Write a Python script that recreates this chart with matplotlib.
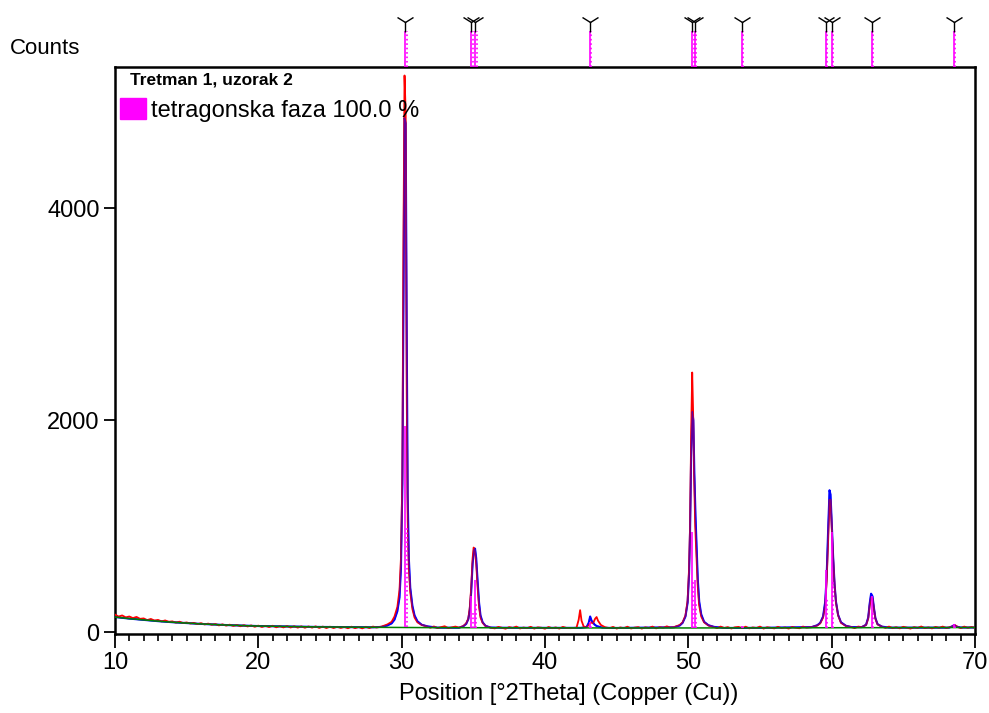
import numpy as np
import matplotlib
matplotlib.use("Agg")
import matplotlib.pyplot as plt
from matplotlib.patches import Patch

plt.rcParams['font.family'] = ['Liberation Sans', 'DejaVu Sans']

observed = [
    (10.0, 168), (10.25, 150), (10.5, 160), (10.75, 142), (11.0, 150), (11.25, 135), (11.5, 146),
    (11.75, 128), (12.0, 132), (12.25, 116), (12.5, 127), (12.75, 112), (13.0, 118), (13.25, 104),
    (13.5, 113), (13.75, 100), (14.0, 104), (14.25, 92), (14.5, 101), (14.75, 88), (15.0, 94),
    (15.25, 84), (15.5, 90), (15.75, 78), (16.0, 87), (16.25, 75), (16.5, 83), (16.75, 72),
    (17.0, 79), (17.25, 66), (17.5, 76), (17.75, 64), (18.0, 73), (18.25, 61), (18.5, 70),
    (18.75, 58), (19.0, 68), (19.25, 56), (19.5, 66), (19.75, 53), (20.0, 64), (20.25, 51),
    (20.5, 62), (20.75, 50), (21.0, 63), (21.25, 48), (21.5, 59), (21.75, 47), (22.0, 60),
    (22.25, 46), (22.5, 58), (22.75, 45), (23.0, 57), (23.25, 44), (23.5, 56), (23.75, 45),
    (24.0, 57), (24.25, 42), (24.5, 55), (24.75, 41), (25.0, 54), (25.25, 41), (25.5, 53),
    (25.75, 42), (26.0, 52), (26.25, 39), (26.5, 54), (26.75, 40), (27.0, 51), (27.25, 38),
    (27.5, 53), (27.75, 41), (28.0, 55), (28.25, 46),
    (28.6, 55), (29.0, 75), (29.3, 100), (29.5, 150), (29.7, 240), (29.85, 400), (29.95, 700),
    (30.05, 1500), (30.12, 3600), (30.2, 5250), (30.28, 4900), (30.35, 2300), (30.42, 1050),
    (30.5, 600), (30.6, 380), (30.75, 220), (30.9, 140), (31.1, 95), (31.4, 70), (31.8, 55),
    (32.0, 44), (32.25, 56), (32.5, 41), (32.75, 50), (33.0, 58), (33.25, 40), (33.5, 47),
    (33.75, 55),
    (34.0, 45), (34.3, 60), (34.5, 85), (34.65, 130), (34.75, 230), (34.85, 420), (34.95, 700),
    (35.02, 800), (35.1, 780), (35.2, 650), (35.3, 420), (35.4, 240), (35.5, 140), (35.65, 90),
    (35.85, 60), (36.2, 45),
    (36.5, 38), (36.75, 52), (37.0, 44), (37.25, 35), (37.5, 50), (37.75, 42), (38.0, 55),
    (38.25, 37), (38.5, 46), (38.75, 40), (39.0, 53), (39.25, 36), (39.5, 48), (39.75, 44),
    (40.0, 35), (40.25, 51), (40.5, 40), (40.75, 47), (41.0, 36), (41.25, 52), (41.5, 42),
    (41.8, 40), (42.2, 45), (42.35, 120), (42.45, 210), (42.55, 110), (42.7, 55), (42.9, 50),
    (43.05, 70), (43.2, 95), (43.35, 85), (43.5, 130), (43.6, 145), (43.7, 110), (43.9, 70),
    (44.2, 48), (44.5, 40),
    (44.75, 52), (45.0, 36), (45.25, 47), (45.5, 40), (45.75, 54), (46.0, 37), (46.25, 45),
    (46.5, 50), (46.75, 36), (47.0, 48), (47.25, 42), (47.5, 55), (47.75, 38), (48.0, 50),
    (48.25, 44), (48.5, 57), (48.75, 46),
    (49.0, 50), (49.4, 70), (49.6, 95), (49.8, 160), (49.95, 300), (50.05, 600), (50.12, 1000),
    (50.2, 1900), (50.27, 2450), (50.33, 2100), (50.4, 1500), (50.48, 1000), (50.57, 700),
    (50.65, 450), (50.75, 260), (50.9, 150), (51.1, 95), (51.4, 65), (51.8, 50),
    (52.0, 40), (52.25, 55), (52.5, 42), (52.75, 50), (53.0, 37), (53.25, 48), (53.5, 52),
    (53.75, 40), (54.0, 54), (54.25, 38), (54.5, 47), (54.75, 42), (55.0, 55), (55.25, 36),
    (55.5, 49), (55.75, 43), (56.0, 38), (56.25, 53), (56.5, 41), (56.75, 47), (57.0, 36),
    (57.25, 52), (57.5, 44), (57.75, 39), (58.0, 55), (58.25, 45),
    (58.6, 50), (59.0, 65), (59.2, 85), (59.4, 140), (59.55, 260), (59.65, 480), (59.75, 850),
    (59.85, 1250), (59.92, 1250), (60.0, 1000), (60.1, 700), (60.2, 450), (60.3, 280),
    (60.45, 160), (60.65, 90), (61.0, 60), (61.4, 50), (61.6, 40), (61.85, 55),
    (62.1, 50), (62.4, 70), (62.55, 130), (62.65, 250), (62.75, 330), (62.85, 320), (62.95, 220),
    (63.05, 130), (63.2, 75), (63.5, 55),
    (63.75, 42), (64.0, 55), (64.25, 40), (64.5, 49), (64.75, 38), (65.0, 53), (65.25, 44),
    (65.5, 36), (65.75, 50), (66.0, 42), (66.25, 56), (66.5, 40), (66.75, 47), (67.0, 38),
    (67.25, 52), (67.5, 43), (67.75, 55), (68.0, 41), (68.25, 50), (68.4, 55), (68.6, 68),
    (68.8, 52), (69.0, 40), (69.25, 55), (69.5, 43), (69.75, 51), (70.0, 44),
]

# calculated pattern (blue)
calculated = [
    (10, 145), (11, 130), (12, 118), (13, 106), (14, 96), (16, 80), (18, 68), (20, 60), (24, 52),
    (28, 48), (28.6, 52), (29.0, 65), (29.3, 85), (29.5, 120), (29.7, 200), (29.85, 330),
    (29.95, 600), (30.05, 1400), (30.12, 3000), (30.2, 4850), (30.28, 4800), (30.35, 2900),
    (30.42, 1300), (30.5, 700), (30.6, 420), (30.75, 250), (30.9, 160), (31.1, 105), (31.4, 72),
    (31.8, 57), (32.5, 45), (34.0, 44), (34.3, 58), (34.5, 80), (34.65, 125), (34.75, 210),
    (34.85, 380), (34.95, 650), (35.05, 780), (35.12, 790), (35.2, 700), (35.3, 480), (35.4, 280),
    (35.5, 160), (35.65, 95), (35.85, 62), (36.2, 46), (37, 44), (40, 43), (41.8, 43),
    (42.5, 43), (42.9, 50), (43.05, 90), (43.15, 150), (43.25, 110), (43.45, 75), (43.6, 60),
    (44.0, 45), (44.6, 42), (45, 42), (49.0, 48), (49.4, 65), (49.6, 90), (49.8, 150),
    (49.95, 280), (50.05, 550), (50.12, 950), (50.2, 1700), (50.28, 2080), (50.35, 2000),
    (50.42, 1500), (50.5, 1100), (50.58, 800), (50.66, 500), (50.76, 290), (50.9, 170),
    (51.1, 100), (51.4, 68), (51.8, 52), (52.5, 42), (55, 43), (58.6, 50), (59.0, 68),
    (59.2, 90), (59.4, 150), (59.55, 290), (59.65, 530), (59.75, 950), (59.85, 1340),
    (59.92, 1300), (60.0, 1050), (60.1, 720), (60.2, 460), (60.3, 290), (60.45, 165),
    (60.65, 95), (61.0, 62), (61.4, 50), (62.1, 50), (62.4, 72), (62.55, 140), (62.65, 270),
    (62.75, 365), (62.85, 340), (62.95, 230), (63.05, 135), (63.2, 78), (63.5, 55), (64, 45),
    (65, 45), (68.2, 45), (68.45, 60), (68.55, 70), (68.7, 55), (69.0, 46), (70.0, 46),
]

# background (green)
bg_pos = [10, 11, 12, 13, 14, 16, 18, 20, 24, 28, 32, 36, 40, 45, 50, 55, 60, 65, 70]
bg_counts = [145, 130, 118, 106, 96, 80, 68, 60, 52, 48, 45, 44, 43, 42, 42, 43, 44, 45, 46]

# reference lines of the tetragonal phase
ref_pos = [30.26, 34.87, 35.14, 43.14, 50.28, 50.45, 53.71, 59.6, 60.0, 62.78, 68.5]
ref_counts = [1900, 300, 450, 60, 900, 450, 20, 540, 900, 300, 30]

obs_x, obs_y = zip(*observed)
calc_x, calc_y = zip(*calculated)

fig = plt.figure(figsize=(9.89, 7.13), dpi=100)
ax = fig.add_axes([115 / 989, 1 - 634 / 713, 860 / 989, 567 / 713])
top = fig.add_axes([115 / 989, 1 - 67 / 713, 860 / 989, 50 / 713], sharex=ax)

ax.plot(calc_x, calc_y, color='blue', lw=1.5, zorder=2)
ax.plot(obs_x, obs_y, color='red', lw=1.3, zorder=3)
ax.plot(calc_x, calc_y, color='blue', lw=1.0, alpha=0.6, zorder=3.5)
ax.plot(bg_pos, bg_counts, color='green', lw=1.1, zorder=4)
base = np.interp(ref_pos, bg_pos, bg_counts)
ax.vlines(ref_pos, base, base + np.array(ref_counts), color='magenta', lw=1.2, zorder=5)
ax.vlines(np.array(ref_pos) + 0.08, base, base + np.array(ref_counts) / 2,
          color='magenta', lw=1.2, ls=':', zorder=5)

ax.set_xlim(10, 70)
ax.set_ylim(-15, 5330)
ax.set_xticks(range(10, 71, 10))
ax.set_xticks(range(10, 71, 1), minor=True)
ax.set_yticks([0, 2000, 4000])
ax.tick_params(axis='both', which='major', direction='out', width=1.3, labelsize=17, pad=3)
ax.tick_params(axis='x', which='major', length=10)
ax.tick_params(axis='y', which='major', length=8)
ax.tick_params(axis='x', which='minor', direction='out', length=5, width=1.2)
ax.set_xlabel('Position [°2Theta] (Copper (Cu))', fontsize=17)
ax.xaxis.set_label_coords((569 - 115) / 860, -(683 - 634) / 567)
for s in ax.spines.values():
    s.set_linewidth(1.8)

ax.legend(handles=[Patch(color='magenta', label='tetragonska faza 100.0 %')],
          loc='center left', bbox_to_anchor=(5 / 860, (634 - 110) / 567), frameon=False,
          fontsize=17, handlelength=1.1, handleheight=1.0, handletextpad=0.2,
          borderaxespad=0, borderpad=0)
ax.text(15 / 860, (634 - 80) / 567, 'Tretman 1, uzorak 2', transform=ax.transAxes,
        fontsize=12.5, fontweight='bold', ha='left', va='center')

# reference pattern strip above the plot
top.vlines(ref_pos, 0, 0.8, color='magenta', lw=1.2)
top.vlines(np.array(ref_pos) + 0.1, 0, 0.8, color='magenta', lw=1.2, ls=':')
top.plot(ref_pos, [1.0] * len(ref_pos), ls='none', marker='1', color='black', ms=14, mew=1)
top.set_ylim(0, 1.1)
top.axis('off')

fig.text(10 / 989, 1 - 48 / 713, 'Counts', fontsize=16, ha='left', va='center')

fig.savefig('out.png', dpi=100)
